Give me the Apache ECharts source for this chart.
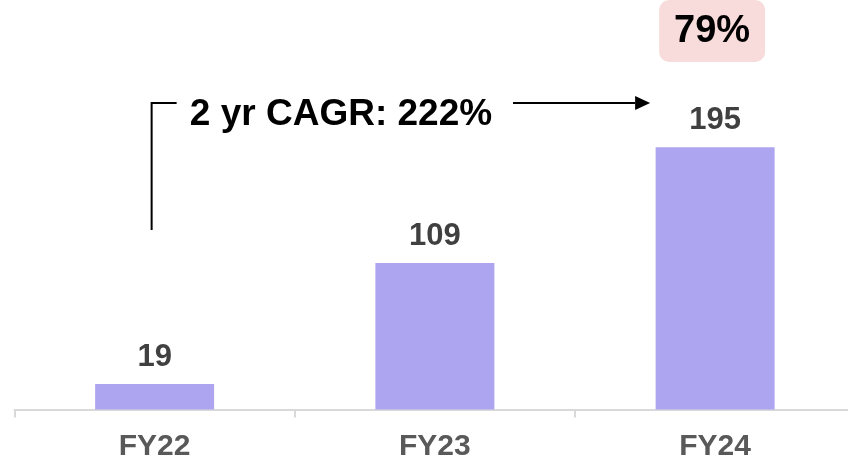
<!DOCTYPE html>
<html>
<head>
<meta charset="utf-8">
<script src="https://cdn.jsdelivr.net/npm/echarts@6/dist/echarts.min.js"></script>
<style>
  html, body { margin: 0; padding: 0; background: #ffffff; }
  #chart { width: 848px; height: 460px; }
</style>
</head>
<body>
<div id="chart"></div>
<script>
// Fiscal-year values
const categories = ['FY22', 'FY23', 'FY24'];
const values = [19, 109, 195];
const cagrText = '2 yr CAGR: 222%';
const growthText = '79%';

const FONT = '"Liberation Sans", Arial, sans-serif';
const chart = echarts.init(document.getElementById('chart'), null, { renderer: 'canvas' });

chart.setOption({
  animation: false,
  backgroundColor: '#ffffff',
  grid: { left: 14.5, width: 840.75, top: 6, height: 403.5, outerBoundsMode: 'none', containLabel: false },
  xAxis: {
    type: 'category',
    data: categories,
    axisLine: { show: true, lineStyle: { color: '#d9d9d9', width: 2 } },
    axisTick: { show: true, length: 8, lineStyle: { color: '#d9d9d9', width: 2 } },
    axisLabel: {
      margin: 22,
      color: '#595959',
      fontFamily: FONT,
      fontWeight: 'bold',
      fontSize: 30
    }
  },
  yAxis: {
    type: 'value',
    min: 0,
    max: 300,
    show: false,
    splitLine: { show: false }
  },
  series: [{
    type: 'bar',
    data: values,
    barWidth: 119,
    itemStyle: { color: '#ada5ef' },
    label: {
      show: true,
      position: 'top',
      distance: 11,
      color: '#404040',
      fontFamily: FONT,
      fontWeight: 'bold',
      fontSize: 31
    }
  }]
});

// Annotations anchored on the category positions
const x22 = chart.convertToPixel({ xAxisIndex: 0 }, 'FY22');
const x24 = chart.convertToPixel({ xAxisIndex: 0 }, 'FY24');
const lineY = 103;

chart.setOption({
  graphic: [
    {
      type: 'polyline',
      shape: { points: [[x22 - 3, 230], [x22 - 3, lineY], [x22 + 22, lineY]] },
      style: { stroke: '#000000', lineWidth: 2, fill: null }
    },
    {
      type: 'text',
      x: 341, y: 115,
      style: {
        text: cagrText,
        fontFamily: FONT,
        fontWeight: 'bold',
        fontSize: 37,
        fill: '#000000',
        align: 'center',
        verticalAlign: 'middle'
      }
    },
    {
      type: 'line',
      shape: { x1: 513, y1: lineY, x2: x24 - 80, y2: lineY },
      style: { stroke: '#000000', lineWidth: 2 }
    },
    {
      type: 'polygon',
      shape: { points: [[x24 - 80, lineY - 7], [x24 - 65, lineY], [x24 - 80, lineY + 7]] },
      style: { fill: '#000000' }
    },
    {
      type: 'rect',
      shape: { x: x24 - 56, y: 0, width: 106, height: 62, r: 10 },
      style: { fill: '#f8dcdb' }
    },
    {
      type: 'text',
      x: x24 - 3, y: 32,
      style: {
        text: growthText,
        fontFamily: FONT,
        fontWeight: 'bold',
        fontSize: 38,
        fill: '#000000',
        align: 'center',
        verticalAlign: 'middle'
      }
    }
  ]
});
</script>
</body>
</html>
